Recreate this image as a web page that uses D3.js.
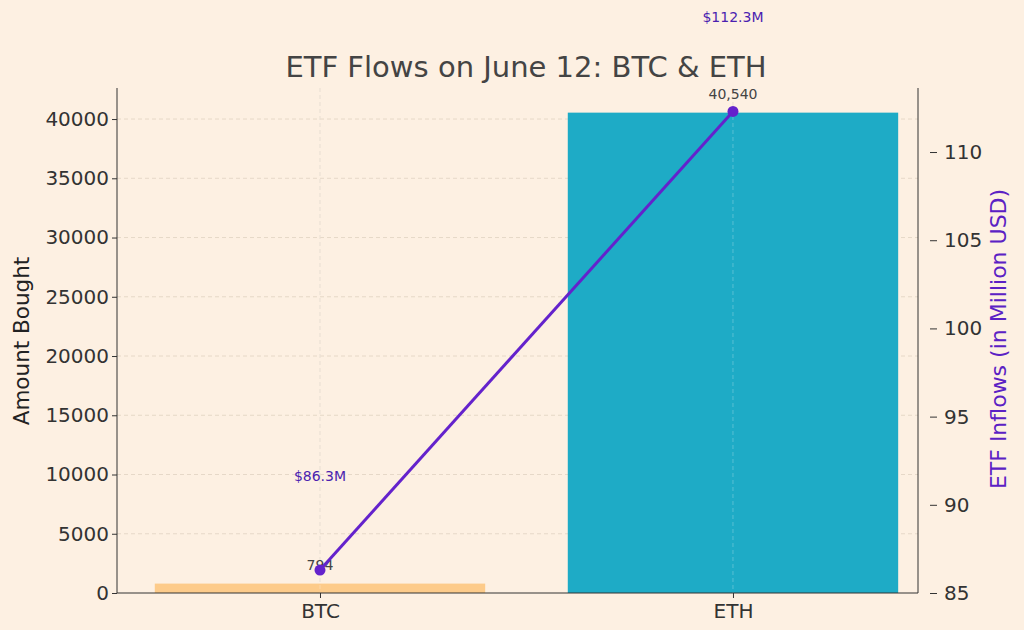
<!DOCTYPE html><html><head><meta charset="utf-8"><script src="https://cdn.jsdelivr.net/npm/d3@7"></script>
<style>body{margin:0;background:#fdf0e2}text{font-family:"DejaVu Sans",sans-serif}</style></head><body><svg id="c" width="1024" height="630"></svg><script>
const categories=["BTC","ETH"];
const amounts=[794,40540];
const inflows=[86.3,112.3];
const amountLabels=["794","40,540"];
const inflowLabels=["$86.3M","$112.3M"];
const leftTicks=[0,5000,10000,15000,20000,25000,30000,35000,40000];
const rightTicks=[85,90,95,100,105,110];
const barColors=["#fdcb8a","#1eabc6"];
const svg=d3.select("#c");
svg.append("rect").attr("width",1024).attr("height",630).attr("fill","#fdf0e2");
const L=117,R=918,T=88,B=593;
const x=d3.scaleLinear().domain([-0.4915,1.448]).range([L,R]);
const y=d3.scaleLinear().domain([0,42620]).range([B,T]);
const y2=d3.scaleLinear().domain([85,113.63]).range([B,T]);
const g=svg.append("g");
g.selectAll(".gy").data(leftTicks.slice(1)).join("line").attr("x1",L).attr("x2",R).attr("y1",d=>y(d)).attr("y2",d=>y(d)).attr("stroke","#e6d8c8").attr("stroke-dasharray","4,3");
g.selectAll(".gx").data(categories).join("line").attr("x1",(d,i)=>x(i)).attr("x2",(d,i)=>x(i)).attr("y1",T).attr("y2",B).attr("stroke","#e6d8c8").attr("stroke-dasharray","4,3");
g.selectAll(".bar").data(amounts).join("rect").attr("x",(d,i)=>x(i-0.4)).attr("width",x(0.4)-x(-0.4)).attr("y",d=>y(d)).attr("height",d=>B-y(d)).attr("fill",(d,i)=>barColors[i]);
g.selectAll(".gx2").data(categories).join("line").attr("x1",(d,i)=>x(i)).attr("x2",(d,i)=>x(i)).attr("y1",T).attr("y2",B).attr("stroke","#ffffff").attr("stroke-opacity",0.25).attr("stroke-dasharray","4,3");
g.selectAll(".al").data(amounts).join("text").attr("x",(d,i)=>x(i)).attr("y",d=>y(d)-14).attr("text-anchor","middle").attr("font-size",14).attr("fill","#444").text((d,i)=>amountLabels[i]);
const ax=svg.append("g").attr("transform",`translate(0,${B})`).call(d3.axisBottom(x).tickValues([0,1]).tickFormat(i=>categories[i]).tickSize(5));
const ay=svg.append("g").attr("transform",`translate(${L},0)`).call(d3.axisLeft(y).tickValues(leftTicks).tickFormat(d3.format("d")).tickSize(5));
const ay2=svg.append("g").attr("transform",`translate(${R},0)`).call(d3.axisRight(y2).tickValues(rightTicks).tickSize(5));
[ax,ay,ay2].forEach(a=>{a.selectAll("text").attr("font-size",20).attr("fill","#333").style("font-family","DejaVu Sans");a.selectAll("line,path").attr("stroke","#333");});
ax.select(".domain").attr("d",`M${L},0H${R}`);
ay.select(".domain").attr("d",`M0,${T}V${B}`);ay2.select(".domain").attr("d",`M0,${T}V${B}`);
ax.selectAll("text").attr("dy","0.85em");
ay2.selectAll(".tick line").attr("x1",12).attr("x2",19);
ay2.selectAll("text").attr("x",26);
const line=d3.line().x((d,i)=>x(i)).y(d=>y2(d));
svg.append("path").datum(inflows).attr("d",line).attr("fill","none").attr("stroke","#6422cc").attr("stroke-width",3);
svg.selectAll(".pt").data(inflows).join("circle").attr("cx",(d,i)=>x(i)).attr("cy",d=>y2(d)).attr("r",5.5).attr("fill","#6422cc");
svg.selectAll(".il").data(inflows).join("text").attr("x",(d,i)=>x(i)).attr("y",d=>y2(d)-89).attr("text-anchor","middle").attr("font-size",14).attr("fill","#4b1fb0").text((d,i)=>inflowLabels[i]);
svg.append("text").attr("x",526).attr("y",77).attr("text-anchor","middle").attr("font-size",29).attr("fill","#444").text("ETF Flows on June 12: BTC & ETH");
svg.append("text").attr("transform","translate(29,341) rotate(-90)").attr("text-anchor","middle").attr("font-size",21.5).attr("fill","#222").text("Amount Bought");
svg.append("text").attr("transform","translate(1006,339) rotate(-90)").attr("text-anchor","middle").attr("font-size",22).attr("fill","#5b21c4").text("ETF Inflows (in Million USD)");
</script></body></html>
